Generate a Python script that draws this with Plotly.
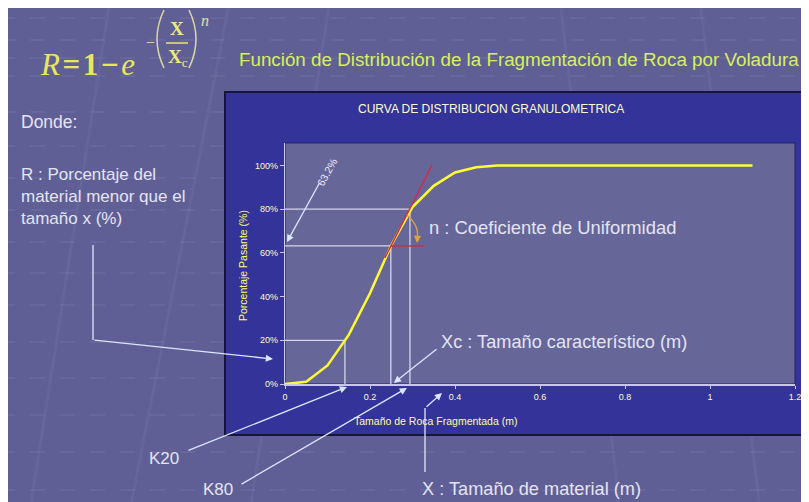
import plotly.graph_objects as go

# Curva granulometrica (Rosin-Rammler)
size_m = [0, 0.05, 0.10, 0.15, 0.20, 0.25, 0.30, 0.35, 0.40, 0.45, 0.50,
          0.60, 0.70, 0.80, 0.90, 1.00, 1.10]
passing_pct = [0, 1, 8.5, 22.5, 41.5, 63.5, 81, 90.7, 96.8, 99.2, 100,
               100, 100, 100, 100, 100, 100]

# puntos caracteristicos
k20, xc, k80 = 0.141, 0.249, 0.294
p20, p632, p80 = 20, 63.2, 80

# recta tangente en Xc y linea horizontal
tangent_x = [0.235, 0.346]
tangent_y = [57.7, 100.3]
horiz_x = [0.249, 0.329]

x_ticks = [0, 0.2, 0.4, 0.6, 0.8, 1.0, 1.2]
x_ticktext = ["0", "0.2", "0.4", "0.6", "0.8", "1", "1.2"]
y_ticks = [0, 20, 40, 60, 80, 100]
y_ticktext = ["0%", "20%", "40%", "60%", "80%", "100%"]

W, H = 809, 502
OFF = 8                       # margen del body de la pagina
L, T, PW, PH = 277, 135, 510, 241
XMAX, YMAX = 1.2, 110.3


def px(X):
    # X en pixeles de la captura -> coordenada paper
    return (X - OFF - L) / PW


def py(Y):
    return (T + PH - (Y - OFF)) / PH


SANS = "Liberation Sans"
SERIF = "Liberation Serif"
LIGHT = "#e4e4f2"
GUIDE = "#d4d4ee"
ARROW = "#dce6ff"

fig = go.Figure()

# lineas guia K20, Xc, K80
gx, gy = [], []
for k, p in [(k20, p20), (xc, p632), (k80, p80)]:
    gx += [0, k, k, None]
    gy += [p, p, 0, None]
fig.add_trace(go.Scatter(x=gx, y=gy, mode="lines",
                         line=dict(color=GUIDE, width=1.3), hoverinfo="skip"))

fig.add_trace(go.Scatter(x=size_m, y=passing_pct, mode="lines",
                         line=dict(color="#ffff33", width=2.5)))

fig.add_trace(go.Scatter(x=tangent_x, y=tangent_y, mode="lines",
                         line=dict(color="#c8324b", width=1.5)))
fig.add_trace(go.Scatter(x=horiz_x, y=[p632, p632], mode="lines",
                         line=dict(color="#c8324b", width=1.5)))

shapes = []
# rayas tenues del fondo de la diapositiva
for yy in [18, 40, 58, 76, 112, 146, 178, 210, 242, 273, 305, 342, 378, 415, 452, 490]:
    shapes.append(dict(type="line", xref="paper", yref="paper", layer="below",
                       x0=px(0), x1=px(820), y0=py(yy), y1=py(yy),
                       line=dict(color="rgba(255,255,255,0.05)", width=2, dash="longdash")))
for xa, xb in [(30, 110), (130, 230), (250, 330), (620, 560), (760, 700)]:
    shapes.append(dict(type="line", xref="paper", yref="paper", layer="below",
                       x0=px(xa), x1=px(xb), y0=py(510), y1=py(0),
                       line=dict(color="rgba(255,255,255,0.04)", width=3)))
# panel del grafico
shapes.append(dict(type="rect", xref="paper", yref="paper", layer="below",
                   x0=px(225), x1=px(830), y0=py(435), y1=py(92),
                   fillcolor="#333399", line=dict(color="#15153a", width=2)))
# area de trazado
shapes.append(dict(type="rect", xref="paper", yref="paper", layer="below",
                   x0=0, x1=1, y0=0, y1=1,
                   fillcolor="#666699", line=dict(color="#222266", width=1)))
# linea de fraccion de la formula
shapes.append(dict(type="line", xref="paper", yref="paper",
                   x0=px(166), x1=px(188), y0=py(43), y1=py(43),
                   line=dict(color="#e8e86a", width=1.5)))
# parentesis
shapes.append(dict(type="path", xref="paper", yref="paper",
                   path=f"M {px(164)},{py(10)} Q {px(150)},{py(39)} {px(164)},{py(68)}",
                   line=dict(color="#d8d8a6", width=1.5)))
shapes.append(dict(type="path", xref="paper", yref="paper",
                   path=f"M {px(189)},{py(10)} Q {px(203)},{py(39)} {px(189)},{py(68)}",
                   line=dict(color="#d8d8a6", width=1.5)))
# poli-lineas de flechas
shapes.append(dict(type="line", xref="paper", yref="paper",
                   x0=px(93), x1=px(93), y0=py(245), y1=py(340),
                   line=dict(color=ARROW, width=1.3)))
shapes.append(dict(type="line", xref="paper", yref="paper",
                   x0=px(425), x1=px(425), y0=py(408), y1=py(472),
                   line=dict(color=ARROW, width=1.3)))
# arco del angulo n
shapes.append(dict(type="path", xref="paper", yref="paper",
                   path=f"M {px(407)},{py(215)} Q {px(420)},{py(226)} {px(417)},{py(240)}",
                   line=dict(color="#e0a040", width=1.3)))

ann = []


def text(s, X, Y, size, color, family=SANS, xanchor="left", yanchor="middle", angle=0, align="left"):
    ann.append(dict(text=s, x=px(X), y=py(Y), xref="paper", yref="paper",
                    xanchor=xanchor, yanchor=yanchor, showarrow=False, textangle=angle,
                    align=align, font=dict(family=family, size=size, color=color)))


def arrow(hx, hy, tx, ty, color=ARROW, width=1.3):
    ann.append(dict(text="", x=px(hx), y=py(hy), xref="paper", yref="paper",
                    ax=tx - hx, ay=ty - hy, showarrow=True, arrowhead=2, arrowsize=1.1,
                    arrowwidth=width, arrowcolor=color, standoff=0, startstandoff=0))


# formula
text("<i>R</i>\u200a<b>=</b>\u200a<b>1</b>\u200a<b>\u2212</b>\u200a<i>e</i>", 38, 64, 31, "#e8e85a", family=SERIF)
text("\u2212", 150, 43, 16, "#e0e0a0", family=SERIF, xanchor="center")
text("<b>X</b>", 177, 29, 19, "#ecec70", family=SERIF, xanchor="center")
text("<b>X</b><sub>c</sub>", 178, 58, 19, "#ecec70", family=SERIF, xanchor="center")
text("<i>n</i>", 205, 20, 16, "#e0e0a0", family=SERIF, xanchor="center")

text("Función de Distribución de la Fragmentación de Roca por Voladura", 237, 60, 18.8, "#d8f05c")
text("Donde:", 19, 122, 17.5, LIGHT)
text("R : Porcentaje del<br>material menor que el<br>tamaño x (%)", 19, 163, 17, LIGHT, yanchor="top")
text("n : Coeficiente de Uniformidad", 427, 227, 18.4, LIGHT)
text("Xc : Tamaño característico (m)", 439, 342, 18.2, LIGHT)
text("X : Tamaño de material (m)", 420, 489, 18.2, LIGHT)
text("K20", 147, 458, 17, LIGHT)
text("K80", 201, 489, 17, LIGHT)

text("CURVA DE DISTRIBUCION GRANULOMETRICA", 491, 109, 12, "#ffffcc", xanchor="center")
text("Tamaño de Roca Fragmentada (m)", 435, 421, 10.5, "#ffff99", xanchor="center")
text("Porcentaje Pasante (%)", 243, 266, 10.5, "#ffff66", xanchor="center", angle=-90)
text("63.2%", 327, 172, 10.5, "#eeeeff", xanchor="center", angle=-61)

# flechas
x0_pix = L + OFF
arrow(287, 242, 320, 182)
arrow(273, 359, 93, 340)
arrow(x0_pix + k20 / XMAX * PW + 2, 387, 187, 451)
arrow(x0_pix + k80 / XMAX * PW - 3, 388, 240, 485)
arrow(x0_pix + xc / XMAX * PW + 3, 383, 438, 348)
arrow(442, 393, 425, 408)
arrow(417, 243, 417.5, 236, color="#e0a040", width=1.3)

fig.update_layout(
    width=W, height=H,
    margin=dict(l=L, r=W - L - PW, t=T, b=H - T - PH),
    paper_bgcolor="#5f5f96", plot_bgcolor="rgba(0,0,0,0)",
    showlegend=False,
    shapes=shapes, annotations=ann,
    xaxis=dict(range=[0, XMAX], tickvals=x_ticks, ticktext=x_ticktext,
               showline=True, linecolor="#c8c8e6", linewidth=1.5,
               ticks="outside", ticklen=3, tickcolor="#c8c8e6",
               showgrid=False, zeroline=False,
               tickfont=dict(family=SANS, size=9, color="#ffffbb")),
    yaxis=dict(range=[0, YMAX], tickvals=y_ticks, ticktext=y_ticktext,
               showline=True, linecolor="#c8c8e6", linewidth=1.2,
               ticks="outside", ticklen=4, tickcolor="#c8c8e6",
               showgrid=False, zeroline=False,
               tickfont=dict(family=SANS, size=9, color="#ffffbb")),
)

fig.write_html("out.html")
